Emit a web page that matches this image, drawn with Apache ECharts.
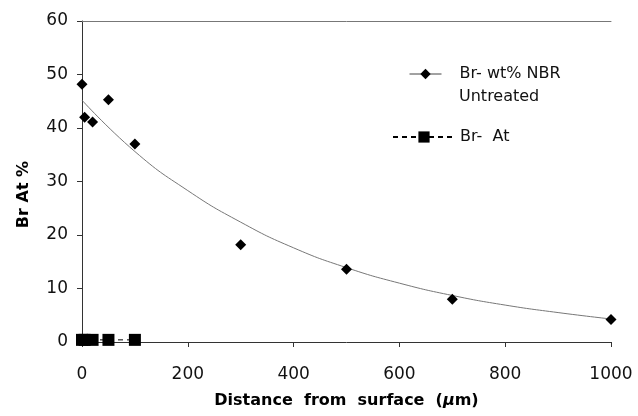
<!DOCTYPE html>
<html>
<head>
<meta charset="utf-8">
<script src="https://cdn.jsdelivr.net/npm/echarts@6/dist/echarts.min.js"></script>
<style>
  html, body { margin: 0; padding: 0; background: #fff; }
  #chart { width: 638px; height: 416px; }
</style>
</head>
<body>
<div id="chart"></div>
<script>
// measured points, Br- wt% NBR untreated
const distance = [0, 5, 20, 50, 100, 300, 500, 700, 1000]
const brWt = [48.2, 42.0, 41.1, 45.3, 37.0, 18.2, 13.6, 8.0, 4.2]
// Br- At points along the bottom
const atDistance = [0, 5, 20, 50, 100]
const brAt = [0.4, 0.4, 0.4, 0.4, 0.4]
// trend curve
const fitX = [0, 100, 200, 300, 400, 500, 600, 700, 800, 900, 1000]
const fitY = [45.2, 35.6, 28.3, 22.4, 17.6, 13.9, 11.0, 8.7, 6.9, 5.5, 4.3]
const xTicks = [0, 200, 400, 600, 800, 1000]
const yTicks = [0, 10, 20, 30, 40, 50, 60]

const nameWt = 'Br- wt% NBR Untreated'
const nameAt = 'Br-  At'
const font = 'DejaVu Sans'

let myEcharts = echarts.init(document.getElementById('chart'))
myEcharts.setOption({
  animation: false,
  grid: { left: 82, right: 27, top: 21, bottom: 74 },
  legend: [
    {
      data: [nameWt],
      left: 409, top: 66,
      padding: 0,
      itemWidth: 32, itemHeight: 13,
      lineStyle: { width: 1, color: '#444', type: 'solid', opacity: 1 },
      formatter: () => 'Br- wt% NBR',
      textStyle: { fontFamily: font, fontSize: 16, color: '#111', padding: [0, 0, 0, 13] }
    },
    {
      data: [nameAt],
      left: 392, top: 129,
      padding: 0,
      itemWidth: 62, itemHeight: 14,
      textStyle: { fontFamily: font, fontSize: 16, color: '#111' }
    }
  ],
  // second line of the first legend entry
  graphic: [
    {
      type: 'text',
      left: 459, top: 89,
      style: { text: 'Untreated', font: '16px "DejaVu Sans"', fill: '#111' }
    }
  ],
  xAxis: [
    {
      type: 'value',
      min: xTicks[0], max: xTicks[xTicks.length - 1], interval: 200,
      name: 'Distance  from  surface  ({i|μ}m)',
      nameLocation: 'middle',
      nameGap: 51,
      nameTextStyle: {
        fontFamily: font, fontSize: 16, fontWeight: 'bold', color: '#000',
        rich: { i: { fontFamily: font, fontSize: 16, fontWeight: 'bold', fontStyle: 'italic', color: '#000' } }
      },
      axisLine: { show: true, lineStyle: { color: '#333', width: 1 } },
      axisTick: { show: true, inside: false, length: 5, lineStyle: { color: '#333' } },
      axisLabel: { margin: 24, fontFamily: font, fontSize: 17, color: '#111', formatter: v => String(v) },
      splitLine: { show: false }
    },
    {
      type: 'value', position: 'top',
      min: 0, max: 1000,
      axisLine: { show: true, lineStyle: { color: '#777', width: 1 } },
      axisTick: { show: false }, axisLabel: { show: false }, splitLine: { show: false }
    }
  ],
  yAxis: {
    type: 'value',
    min: yTicks[0], max: yTicks[yTicks.length - 1], interval: 10,
    name: 'Br At %',
    nameLocation: 'middle',
    nameGap: 50,
    nameTextStyle: { fontFamily: font, fontSize: 16, fontWeight: 'bold', color: '#000', padding: [0, 26, 0, 0] },
    axisLine: { show: true, lineStyle: { color: '#333', width: 1 } },
    axisTick: { show: true, inside: false, length: 5, lineStyle: { color: '#333' } },
    axisLabel: { margin: 14, fontFamily: font, fontSize: 17, color: '#111' },
    splitLine: { show: false }
  },
  series: [
    {
      name: 'trend',
      type: 'line',
      data: fitX.map((x, i) => [x, fitY[i]]),
      smooth: true,
      showSymbol: false,
      symbol: 'none',
      lineStyle: { color: '#777', width: 1 },
      silent: true,
      z: 1
    },
    {
      name: nameWt,
      type: 'line',
      data: distance.map((x, i) => [x, brWt[i]]),
      symbol: 'diamond',
      symbolSize: 11,
      itemStyle: { color: '#000' },
      lineStyle: { width: 0, opacity: 0 },
      z: 3
    },
    {
      name: nameAt,
      type: 'line',
      data: atDistance.map((x, i) => [x, brAt[i]]),
      symbol: 'rect',
      symbolSize: 12,
      itemStyle: { color: '#000' },
      lineStyle: { color: '#000', width: 1, type: [5, 4] },
      z: 3
    }
  ]
})
</script>
</body>
</html>
